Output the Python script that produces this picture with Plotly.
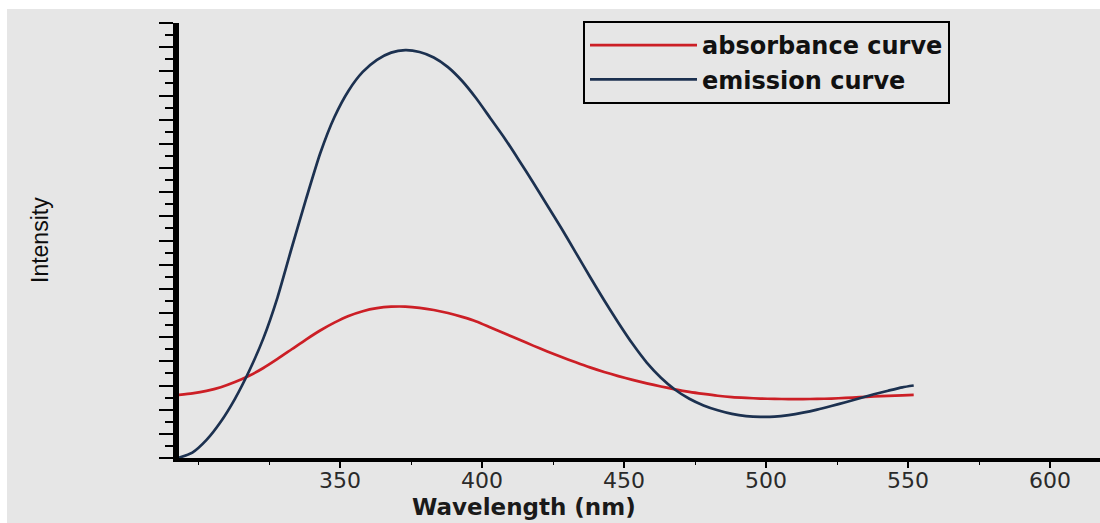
import plotly.graph_objects as go

# ---- data ----
abs_wavelength = [293, 298, 303, 308, 313, 318, 323, 328, 333, 338, 343, 348, 353, 358, 363,
                  368, 373, 378, 383, 388, 393, 398, 403, 408, 413, 418, 423, 428, 433, 438,
                  443, 448, 453, 458, 463, 468, 473, 478, 483, 488, 493, 498, 503, 508, 513,
                  518, 523, 528, 533, 538, 543, 548, 552]
abs_intensity = [5.22, 5.35, 5.55, 5.85, 6.28, 6.80, 7.45, 8.20, 9.00, 9.80, 10.55, 11.20, 11.75, 12.15, 12.40,
                 12.52, 12.53, 12.43, 12.25, 12.00, 11.68, 11.30, 10.80, 10.30, 9.80, 9.30, 8.82, 8.36, 7.92, 7.50,
                 7.12, 6.78, 6.47, 6.18, 5.92, 5.68, 5.47, 5.30, 5.15, 5.04, 4.97, 4.92, 4.89, 4.88, 4.88,
                 4.89, 4.92, 4.97, 5.03, 5.09, 5.14, 5.19, 5.22]

em_wavelength = [293, 298, 303, 308, 313, 318, 323, 328, 333, 338, 343, 348, 353, 358, 363,
                 368, 373, 378, 383, 388, 393, 398, 403, 408, 413, 418, 423, 428, 433, 438,
                 443, 448, 453, 458, 463, 468, 473, 478, 483, 488, 493, 498, 503, 508, 513,
                 518, 523, 528, 533, 538, 543, 548, 552]
em_intensity = [0.00, 0.45, 1.50, 3.00, 4.90, 7.20, 9.90, 13.30, 17.40, 21.40, 25.20, 28.20, 30.40, 31.95, 32.95,
                33.55, 33.75, 33.60, 33.15, 32.35, 31.20, 29.75, 28.10, 26.45, 24.65, 22.80, 20.90, 19.00, 17.00, 15.00,
                13.05, 11.20, 9.45, 7.90, 6.65, 5.65, 4.90, 4.35, 3.95, 3.65, 3.47, 3.40, 3.42, 3.55, 3.75,
                4.00, 4.30, 4.62, 4.95, 5.27, 5.57, 5.85, 6.00]

x_tick_values = [350, 400, 450, 500, 550, 600]
x_tick_labels = ["350", "400", "450", "500", "550", "600"]

BG = "#e6e6e6"
L, T, H = 179, 23, 435  # plot area in pixels
W = 1100 - L


def px_x(p):
    return (p - L) / W


def px_y(p):
    return (T + H - p) / H


fig = go.Figure()
fig.add_trace(go.Scatter(x=abs_wavelength, y=abs_intensity, mode="lines",
                         name="absorbance curve",
                         line=dict(color="#cc1f26", width=2.7, shape="spline", smoothing=0.6)))
fig.add_trace(go.Scatter(x=em_wavelength, y=em_intensity, mode="lines",
                         name="emission curve",
                         line=dict(color="#1c3150", width=2.7, shape="spline", smoothing=0.6)))

fig.update_layout(
    width=1100, height=523,
    margin=dict(l=L, r=0, t=T, b=523 - T - H, pad=0),
    paper_bgcolor="white", plot_bgcolor=BG,
    showlegend=True,
    legend=dict(x=px_x(583), y=px_y(21), xanchor="left", yanchor="top",
                bgcolor="rgba(0,0,0,0)", bordercolor="black", borderwidth=2,
                font=dict(family="DejaVu Sans", size=24, color="#111111", weight="bold"),
                itemwidth=107, tracegroupgap=0),
    xaxis=dict(range=[293.3, 617.6], showgrid=False, zeroline=False,
               showline=True, linecolor="black", linewidth=4,
               ticks="outside", ticklen=6, tickwidth=2, tickcolor="black",
               tickvals=x_tick_values, ticktext=x_tick_labels, ticklabelstandoff=-6,
               tickfont=dict(family="DejaVu Sans", size=22, color="#2a2a2a"),
               minor=dict(dtick=25, tick0=300, ticks="outside", ticklen=3, tickwidth=1, tickcolor="black")),
    yaxis=dict(range=[0, 36], showgrid=False, zeroline=False,
               showline=True, linecolor="black", linewidth=6,
               ticks="outside", ticklen=14, tickwidth=2, tickcolor="black",
               dtick=2, tick0=0, showticklabels=False,
               minor=dict(dtick=1, tick0=0, ticks="outside", ticklen=8, tickwidth=2, tickcolor="black")),
    shapes=[dict(type="rect", xref="paper", yref="paper", layer="below",
                 x0=px_x(7), x1=1.0, y0=px_y(523), y1=px_y(9),
                 fillcolor=BG, line=dict(width=0))],
    annotations=[
        dict(text="Intensity", textangle=-90, xref="paper", yref="paper",
             x=px_x(40), y=px_y(240), xanchor="center", yanchor="middle",
             showarrow=False,
             font=dict(family="Liberation Sans", size=23, color="#0d0d0d")),
        dict(text="<b>Wavelength (nm)</b>", xref="paper", yref="paper",
             x=px_x(524), y=px_y(492), xanchor="center", yanchor="top",
             showarrow=False, font=dict(family="DejaVu Sans", size=23, color="#1a1a1a")),
    ],
)

fig.write_html("out.html")
